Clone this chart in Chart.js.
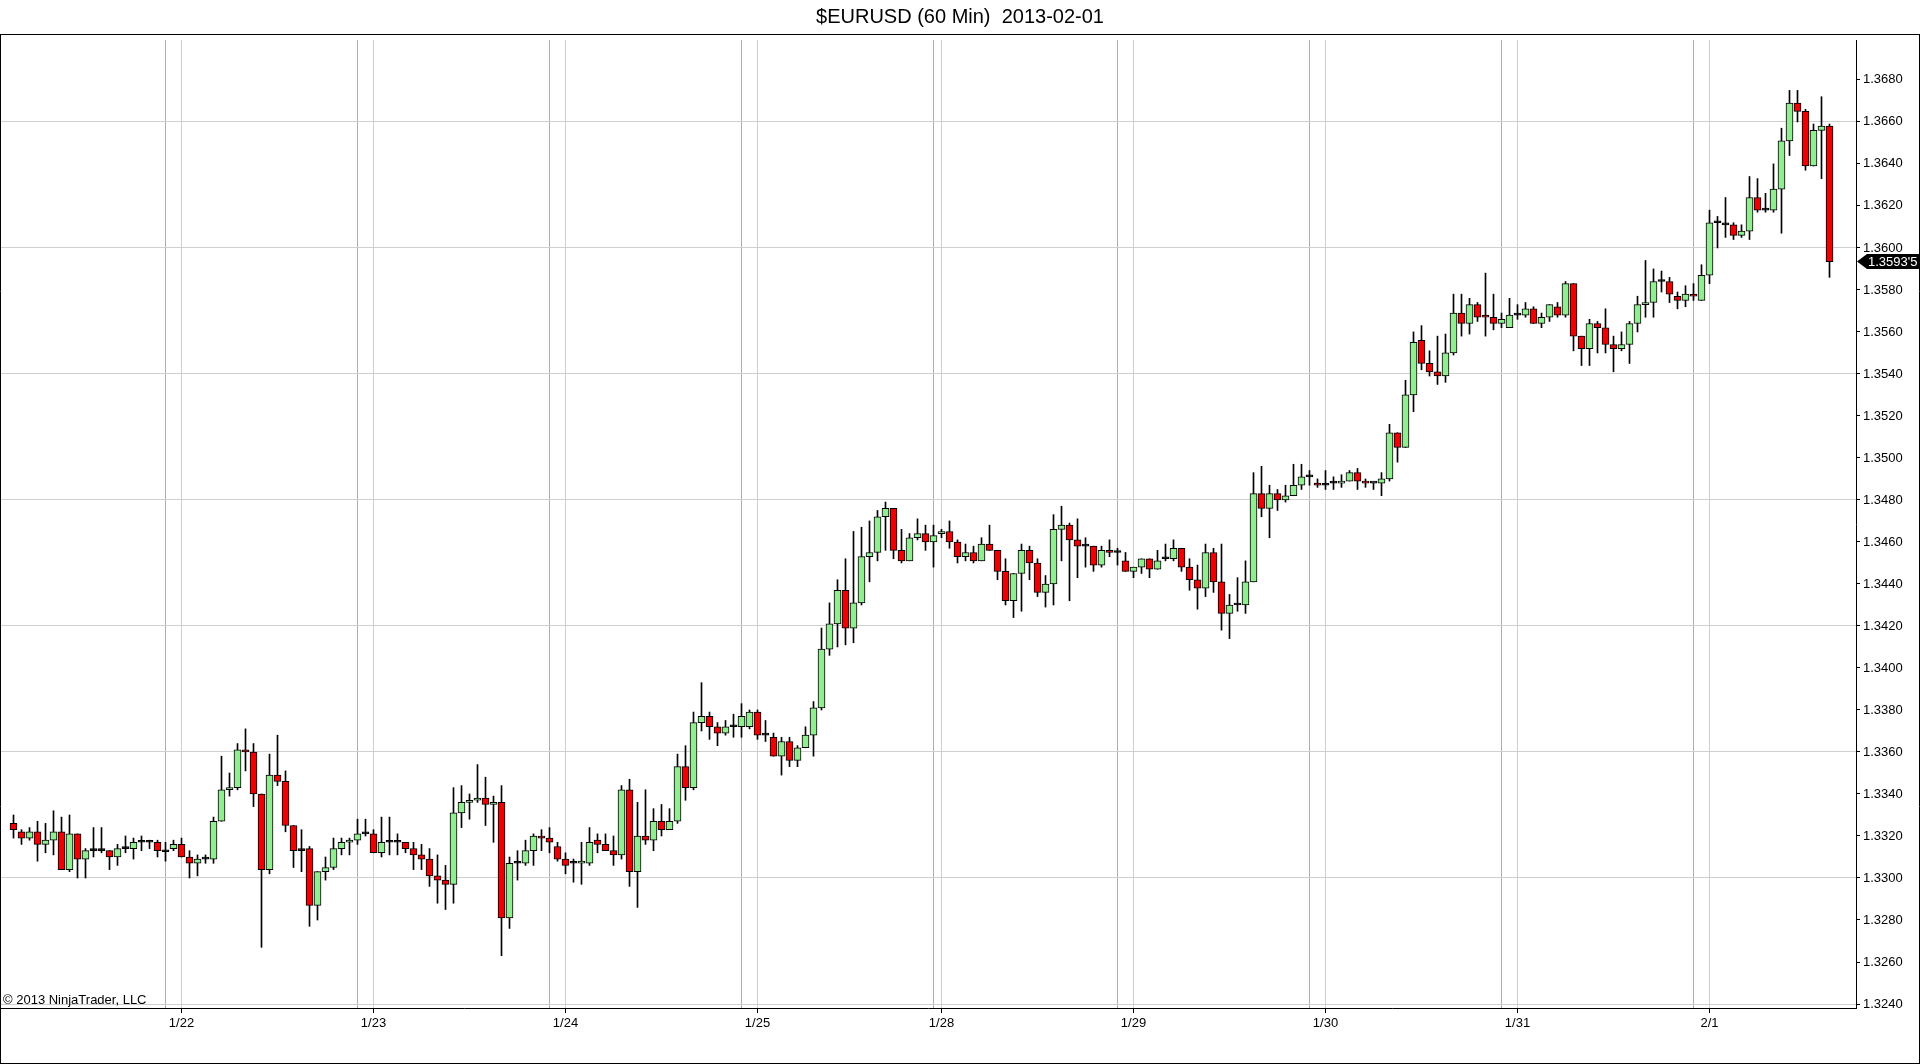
<!DOCTYPE html>
<html><head><meta charset="utf-8">
<script src="https://cdn.jsdelivr.net/npm/chart.js@4.4.1/dist/chart.umd.min.js"></script>
<style>html,body{margin:0;padding:0;background:#fff;overflow:hidden}canvas{display:block}</style>
</head><body>
<canvas id="c" width="1920" height="1064"></canvas>
<script>
const chartTitle = '$EURUSD (60 Min)  2013-02-01';
const copyrightText = '\u00A9 2013 NinjaTrader, LLC';

const openP = [
1.3326,1.3322,1.3319,1.3322,1.3316,1.3318,1.3322,1.3304,1.3321,1.3309,
1.3313,1.3313,1.3313,1.3310,1.3314,1.3314,1.3317,1.3317,1.3317,1.33125,
1.3314,1.3316,1.3310,1.3307,1.3309,1.3309,1.3327,1.3342,1.3343,1.3361,
1.3360,1.3340,1.3304,1.3349,1.3346,1.3325,1.3313,1.3314,1.3287,1.3303,
1.3305,1.3314,1.3317,1.3318,1.3321,1.3321,1.3312,1.3317,1.3317,1.3317,
1.3314,1.3311,1.3309,1.3301,1.3299,1.3297,1.3331,1.3336,1.3337,1.3338,
1.3335,1.3336,1.3281,1.3307,1.3307,1.3313,1.3320,1.3319,1.3315,1.3309,
1.3307,1.3307,1.3307,1.3318,1.3316,1.3313,1.3311,1.3342,1.3303,1.3320,
1.3318,1.3327,1.3323,1.3327,1.3353,1.3343,1.3374,1.3377,1.3372,1.3369,
1.3372,1.3372,1.3372,1.3379,1.3368,1.3367,1.3358,1.3365,1.3356,1.3362,
1.3368,1.3381,1.3409,1.3421,1.3437,1.3419,1.3431,1.3453,1.3455,1.3472,
1.3476,1.3456,1.3451,1.3462,1.3464,1.3460,1.3464,1.3465,1.3460,1.3453,
1.3455,1.3451,1.3459,1.3456,1.3446,1.3432,1.3445,1.3456,1.3450,1.3436,
1.3440,1.3466,1.3468,1.3461,1.3458,1.3458,1.3449,1.3456,1.3455,1.3451,
1.3446,1.3448,1.3452,1.3447,1.3452,1.3452,1.3457,1.3448,1.3442,1.3438,
1.3455,1.3441,1.3426,1.3430,1.3430,1.3441,1.3483,1.3476,1.3483,1.3480,
1.3482,1.3487,1.3491,1.3488,1.3487,1.3488,1.3488,1.3489,1.3493,1.3489,
1.3488,1.3488,1.3490,1.3512,1.3505,1.3530,1.3556,1.3545,1.3541,1.3539,
1.3550,1.3569,1.3564,1.3573,1.3568,1.3567,1.3564,1.3562,1.3568,1.3568,
1.3571,1.3564,1.3567,1.3572,1.3568,1.3583,1.3558,1.3552,1.3564,1.3562,
1.3554,1.3552,1.3554,1.3564,1.3573,1.3574,1.3584,1.3584,1.3577,1.3575,
1.3578,1.3575,1.3587,1.3612,1.3611,1.3611,1.3606,1.3608,1.3624,1.3618,
1.3618,1.3628,1.3651,1.3669,1.3665,1.3639,1.3656,1.3658];

const highP = [
1.3330,1.3323,1.3324,1.3327,1.3326,1.3332,1.3329,1.3330,1.3321,1.3314,
1.3324,1.3324,1.3313,1.3316,1.3320,1.3319,1.3320,1.3318,1.3318,1.3317,
1.3318,1.3319,1.3313,1.3311,1.3311,1.3329,1.3358,1.3350,1.3364,1.3371,
1.3364,1.3340,1.3359,1.3368,1.3351,1.3325,1.3323,1.3315,1.3303,1.3310,
1.3319,1.3319,1.3319,1.3328,1.3328,1.3323,1.3329,1.3329,1.3321,1.3317,
1.3317,1.3316,1.3314,1.3311,1.3306,1.3343,1.3344,1.3340,1.3354,1.3348,
1.3339,1.3344,1.3310,1.3313,1.3318,1.3321,1.3323,1.3324,1.3317,1.3312,
1.3309,1.3317,1.3324,1.3321,1.3321,1.3320,1.3344,1.3347,1.3336,1.3342,
1.3333,1.3335,1.3333,1.3359,1.3363,1.3379,1.3393,1.3379,1.3374,1.3375,
1.3378,1.3383,1.3380,1.3380,1.3375,1.3369,1.3367,1.3367,1.3363,1.3372,
1.3384,1.3419,1.3431,1.3442,1.3452,1.3465,1.3467,1.3470,1.3475,1.3479,
1.3476,1.3466,1.3464,1.3471,1.3468,1.3468,1.3466,1.3470,1.3461,1.3459,
1.3458,1.3462,1.3468,1.3456,1.3452,1.3445,1.3459,1.3458,1.3452,1.3444,
1.3473,1.3477,1.3469,1.3471,1.3462,1.3458,1.3458,1.3461,1.3457,1.3455,
1.3448,1.3452,1.3452,1.3456,1.3459,1.3461,1.3457,1.3452,1.3449,1.3459,
1.3457,1.3459,1.3435,1.3443,1.3451,1.3493,1.3496,1.3487,1.3485,1.3487,
1.3497,1.3497,1.3494,1.3490,1.3494,1.3491,1.3492,1.3494,1.3495,1.3490,
1.3488,1.3493,1.3516,1.3512,1.3537,1.3560,1.3563,1.3551,1.3558,1.3559,
1.3578,1.3578,1.3576,1.3574,1.3588,1.3578,1.3569,1.3576,1.3573,1.3574,
1.3572,1.3569,1.3573,1.3574,1.3584,1.3583,1.3558,1.3566,1.3565,1.3571,
1.3558,1.3560,1.3565,1.3577,1.3594,1.3590,1.3589,1.3586,1.3579,1.3582,
1.3583,1.3592,1.3618,1.3615,1.3624,1.3612,1.3611,1.3634,1.3633,1.3626,
1.3640,1.3657,1.3675,1.3675,1.3666,1.3659,1.3672,1.3659];

const lowP = [
1.3319,1.3316,1.3318,1.3308,1.3312,1.3311,1.3304,1.3303,1.3300,1.3300,
1.3310,1.3312,1.3304,1.3306,1.3312,1.3309,1.3313,1.3314,1.3310,1.3308,
1.3313,1.3310,1.3300,1.3301,1.3307,1.3307,1.3327,1.3339,1.3342,1.3351,
1.3334,1.3267,1.3302,1.3344,1.3322,1.3305,1.3303,1.3277,1.3280,1.3299,
1.3304,1.3311,1.3311,1.3316,1.3320,1.3312,1.3310,1.3311,1.3311,1.3312,
1.3304,1.3304,1.3296,1.3288,1.3285,1.3288,1.3324,1.3328,1.3336,1.3325,
1.3317,1.3263,1.3276,1.3299,1.3306,1.3306,1.3313,1.3312,1.3308,1.3302,
1.3298,1.3297,1.3306,1.3312,1.3313,1.3306,1.3309,1.3296,1.3286,1.3316,
1.3313,1.3320,1.3323,1.3326,1.3337,1.3342,1.3370,1.3366,1.3363,1.3368,
1.3367,1.3367,1.3371,1.3366,1.3365,1.3358,1.3349,1.3353,1.3353,1.3362,
1.3358,1.3380,1.3406,1.3410,1.3411,1.3412,1.3430,1.3441,1.3451,1.3456,
1.3452,1.3450,1.3451,1.3461,1.3456,1.3448,1.3462,1.3457,1.3450,1.3451,
1.3450,1.3451,1.3456,1.3442,1.3430,1.3424,1.3427,1.3442,1.3434,1.3429,
1.3430,1.3451,1.3432,1.3443,1.3448,1.3446,1.3448,1.3453,1.3449,1.3446,
1.3443,1.3445,1.3443,1.3447,1.3451,1.3451,1.3446,1.3437,1.3428,1.3434,
1.3436,1.3418,1.3414,1.3427,1.3426,1.3441,1.3472,1.3462,1.3475,1.3479,
1.3482,1.3485,1.3487,1.3486,1.3485,1.3485,1.3486,1.3489,1.3485,1.3486,
1.3485,1.3482,1.3489,1.3498,1.3505,1.3522,1.3542,1.3539,1.3535,1.3536,
1.3549,1.3558,1.3559,1.3565,1.3558,1.3561,1.3562,1.3562,1.3566,1.3567,
1.3564,1.3562,1.3565,1.3567,1.3567,1.3551,1.3544,1.3544,1.3550,1.3550,
1.3541,1.3551,1.3545,1.3560,1.3567,1.3567,1.3579,1.3574,1.3571,1.3572,
1.3575,1.3575,1.3583,1.3600,1.3605,1.3604,1.3605,1.3604,1.3617,1.3617,
1.3617,1.3607,1.3644,1.3660,1.3637,1.3639,1.3633,1.3586];

const closeP = [
1.3323,1.3319,1.3322,1.3316,1.3318,1.3322,1.3304,1.3321,1.3309,1.3313,
1.3313,1.3313,1.3310,1.3314,1.3314,1.3317,1.3317,1.3317,1.3313,1.33125,
1.3316,1.3310,1.3307,1.3309,1.3309,1.3327,1.3342,1.3343,1.3361,1.3360,
1.3340,1.3304,1.3349,1.3346,1.3325,1.3313,1.3313,1.3287,1.3303,1.3305,
1.3314,1.3317,1.3318,1.3321,1.3321,1.3312,1.3317,1.3317,1.3317,1.3314,
1.3311,1.3309,1.3301,1.3299,1.3297,1.3331,1.3336,1.3337,1.3338,1.3335,
1.3336,1.3281,1.3307,1.3307,1.3313,1.3320,1.3319,1.3317,1.3309,1.3306,
1.3307,1.3308,1.3317,1.3316,1.3313,1.3311,1.3342,1.3303,1.3320,1.3318,
1.3327,1.3323,1.3327,1.3353,1.3343,1.3374,1.3377,1.3372,1.3369,1.3372,
1.3372,1.3377,1.3379,1.3368,1.3368,1.3358,1.3365,1.3356,1.3362,1.3368,
1.3381,1.3409,1.3421,1.3437,1.3419,1.3431,1.3453,1.3455,1.3472,1.3476,
1.3456,1.3451,1.3462,1.3464,1.3460,1.3463,1.3465,1.3460,1.3453,1.3455,
1.3451,1.3459,1.3456,1.3446,1.3432,1.3445,1.3456,1.3450,1.3436,1.3440,
1.3466,1.3468,1.3461,1.3458,1.3458,1.3449,1.3456,1.3455,1.3455,1.3446,
1.3448,1.3452,1.3447,1.3451,1.3452,1.3457,1.3448,1.3442,1.3438,1.3455,
1.3441,1.3426,1.3430,1.3430,1.3441,1.3483,1.3476,1.3483,1.3480,1.3482,
1.3487,1.3491,1.3491,1.3487,1.3487,1.3488,1.3489,1.3493,1.3489,1.3488,
1.3488,1.3490,1.3512,1.3505,1.3530,1.3555,1.3545,1.3541,1.3539,1.3550,
1.3569,1.3564,1.3573,1.3567,1.3567,1.3564,1.3566,1.3568,1.3568,1.3571,
1.3564,1.3567,1.3573,1.3568,1.3583,1.3558,1.3552,1.3564,1.3562,1.3554,
1.3552,1.3554,1.3564,1.3573,1.3574,1.3584,1.3584,1.3578,1.3575,1.3578,
1.3577,1.3587,1.3612,1.3612,1.3611,1.3606,1.3608,1.3624,1.3618,1.3618,
1.3628,1.3651,1.3669,1.3665,1.3639,1.3656,1.3658,1.35935];

const dayIdx    = [21, 45, 69, 93, 116, 140, 164, 188, 212];
const dayLabels = ['1/22','1/23','1/24','1/25','1/28','1/29','1/30','1/31','2/1'];
const sessionIdx = [19, 43, 67, 91, 115, 138, 162, 186, 210];
const yTicks = [1.3240,1.3260,1.3280,1.3300,1.3320,1.3340,1.3360,1.3380,1.3400,1.3420,1.3440,1.3460,
                1.3480,1.3500,1.3520,1.3540,1.3560,1.3580,1.3600,1.3620,1.3640,1.3660,1.3680];
const yGrid = [1.3240,1.3300,1.3360,1.3420,1.3480,1.3540,1.3600,1.3660];

const FONT = "'Liberation Sans', Arial, sans-serif";
const UP = '#90EE90', DOWN = '#F00000';
const GRID_GRAY = '#CFCFCF', SESSION = '#EBA33A';

const wicks  = openP.map((o, i) => ({x: i, y: [lowP[i], highP[i]]}));
const bodies = openP.map((o, i) => ({x: i, y: [o, closeP[i]]}));
const bodyColors = openP.map((o, i) => closeP[i] > o ? UP : (closeP[i] < o ? DOWN : '#000'));

const near = (arr, v) => arr.some(a => Math.abs(a - v) < 1e-7);

const framePlugin = {
  id: 'frame',
  afterDraw(chart) {
    const ctx = chart.ctx, W = chart.width, H = chart.height;
    ctx.save();
    // copyright text
    ctx.fillStyle = '#000';
    ctx.font = '13px ' + FONT;
    ctx.textBaseline = 'middle';
    ctx.textAlign = 'left';
    ctx.fillText(copyrightText, 3, chart.chartArea.bottom - 8);
    // outer frame
    ctx.strokeStyle = '#000';
    ctx.lineWidth = 1;
    ctx.beginPath();
    ctx.moveTo(0, 34.5); ctx.lineTo(W, 34.5);
    ctx.moveTo(0.5, 34); ctx.lineTo(0.5, H);
    ctx.moveTo(W - 0.5, 34); ctx.lineTo(W - 0.5, H);
    ctx.moveTo(0, H - 0.5); ctx.lineTo(W, H - 0.5);
    ctx.stroke();
    // last price marker
    const last = closeP[closeP.length - 1];
    const y = chart.scales.y.getPixelForValue(last);
    const x0 = chart.chartArea.right + 1;
    ctx.fillStyle = '#000';
    ctx.beginPath();
    ctx.moveTo(x0, y);
    ctx.lineTo(x0 + 10, y - 7.5);
    ctx.lineTo(W - 1, y - 7.5);
    ctx.lineTo(W - 1, y + 7.5);
    ctx.lineTo(x0 + 10, y + 7.5);
    ctx.closePath();
    ctx.fill();
    const s = String(Math.round(last * 100000));
    const txt = s[0] + '.' + s.slice(1, 5) + "'" + s.slice(5);
    ctx.fillStyle = '#fff';
    ctx.font = '13px ' + FONT;
    ctx.fillText(txt, x0 + 11, y + 0.5);
    ctx.restore();
  }
};

new Chart(document.getElementById('c'), {
  type: 'bar',
  data: {
    datasets: [
      {label: 'wick', data: wicks, backgroundColor: '#000', borderWidth: 0,
       barThickness: 1, grouped: false, order: 2},
      {label: 'body', data: bodies, backgroundColor: bodyColors, borderColor: '#000',
       borderWidth: 1, borderSkipped: false, barThickness: 7, minBarLength: 2,
       grouped: false, order: 1}
    ]
  },
  options: {
    responsive: false,
    animation: false,
    devicePixelRatio: 1,
    layout: {padding: 0},
    plugins: {
      legend: {display: false},
      tooltip: {enabled: false},
      title: {display: true, text: chartTitle, color: '#000',
              font: {family: FONT, size: 20, weight: 'normal'},
              padding: {top: 5, bottom: 11}}
    },
    scales: {
      x: {
        type: 'linear', min: -1.6875, max: 230.3125, offset: false,
        afterBuildTicks: s => {
          s.ticks = sessionIdx.concat(dayIdx).sort((a, b) => a - b).map(v => ({value: v}));
        },
        afterFit: s => { s.height = 56; },
        grid: {
          offset: false, drawTicks: true, tickLength: 5, lineWidth: 1,
          color: c => sessionIdx.includes(c.tick && c.tick.value) ? SESSION : GRID_GRAY,
          tickColor: c => dayIdx.includes(c.tick && c.tick.value) ? '#000' : 'rgba(0,0,0,0)'
        },
        border: {display: true, color: '#000', width: 1},
        ticks: {
          autoSkip: false, maxRotation: 0, minRotation: 0, padding: 3, color: '#000',
          font: {family: FONT, size: 13},
          callback: v => { const k = dayIdx.indexOf(v); return k >= 0 ? dayLabels[k] : ''; }
        }
      },
      y: {
        type: 'linear', position: 'right', min: 1.32381, max: 1.3699,
        afterBuildTicks: s => { s.ticks = yTicks.map(v => ({value: v})); },
        afterFit: s => { s.width = 64; },
        grid: {
          drawTicks: true, tickLength: 4, lineWidth: 1,
          color: c => near(yGrid, c.tick && c.tick.value) ? GRID_GRAY : 'rgba(0,0,0,0)',
          tickColor: '#000'
        },
        border: {display: true, color: '#000', width: 1},
        ticks: {
          padding: 3, color: '#000', font: {family: FONT, size: 13},
          callback: v => Number(v).toFixed(4)
        }
      }
    }
  },
  plugins: [framePlugin]
});
</script>
</body></html>
